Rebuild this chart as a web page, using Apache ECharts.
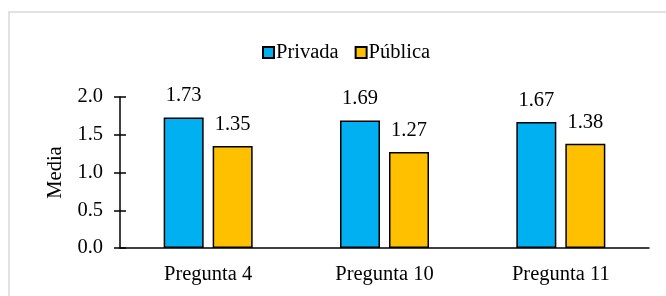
<!DOCTYPE html>
<html><head><meta charset="utf-8">
<script src="https://cdn.jsdelivr.net/npm/echarts@6/dist/echarts.min.js"></script>
<style>html,body{margin:0;padding:0;background:#fff}#c{width:666px;height:296px}</style>
</head><body><div id="c"></div>
<script>
const categories = ['Pregunta 4', 'Pregunta 10', 'Pregunta 11'];
const privada = [1.73, 1.69, 1.67];
const publica = [1.35, 1.27, 1.38];
const yTicks = [0, 0.5, 1.0, 1.5, 2.0];
const FONT = '"Liberation Serif", "Times New Roman", serif';
const FS = 20.5;
const chart = echarts.init(document.getElementById('c'), null, {renderer: 'canvas'});
const lbl = {show: true, position: 'top', distance: 11, fontFamily: FONT, fontSize: FS, color: '#000',
  formatter: p => p.value.toFixed(2)};
chart.setOption({
  animation: false,
  textStyle: {fontFamily: FONT},
  graphic: [{type: 'rect', shape: {x: 9, y: 12, width: 720, height: 320},
    style: {fill: 'none', stroke: '#d9d9d9', lineWidth: 1.5}, silent: true}],
  legend: {
    left: 257, top: 37, itemWidth: 11, itemHeight: 11, itemGap: 16,
    textStyle: {fontFamily: FONT, fontSize: FS, color: '#000', padding: [0, 0, 0, -3]},
    data: [{name: 'Privada', icon: 'rect'}, {name: 'Pública', icon: 'rect'}]
  },
  grid: {left: 120, right: 17, top: 97, bottom: 48},
  xAxis: {
    type: 'category', data: categories,
    axisLine: {lineStyle: {color: '#000', width: 1.5}},
    axisTick: {show: false},
    axisLabel: {fontFamily: FONT, fontSize: FS, color: '#000', margin: 16}
  },
  yAxis: [{
    type: 'value', min: 0, max: 2, interval: 0.5,
    name: 'Media', nameLocation: 'middle', nameGap: 54,
    nameTextStyle: {fontFamily: FONT, fontSize: FS, color: '#000'},
    axisLine: {show: true, lineStyle: {color: '#000', width: 1.5}},
    axisTick: {show: true, length: 6, lineStyle: {color: '#000', width: 1.5}},
    axisLabel: {fontFamily: FONT, fontSize: FS, color: '#000', margin: 17,
      formatter: v => yTicks.includes(v) ? v.toFixed(1) : ''},
    splitLine: {show: false}
  }, {
    type: 'value', min: 0, max: 2, interval: 0.5, position: 'left',
    axisLine: {show: false},
    axisTick: {show: true, inside: true, length: 6, lineStyle: {color: '#000', width: 1.5}},
    axisLabel: {show: false}, splitLine: {show: false}
  }],
  series: [
    {name: 'Privada', type: 'bar', data: privada, barWidth: 40, barGap: '22.5%',
      itemStyle: {color: '#00B0F0', borderColor: '#000', borderWidth: 1.5}, label: lbl},
    {name: 'Pública', type: 'bar', data: publica, barWidth: 40,
      itemStyle: {color: '#FFC000', borderColor: '#000', borderWidth: 1.5}, label: lbl}
  ]
});
</script></body></html>
